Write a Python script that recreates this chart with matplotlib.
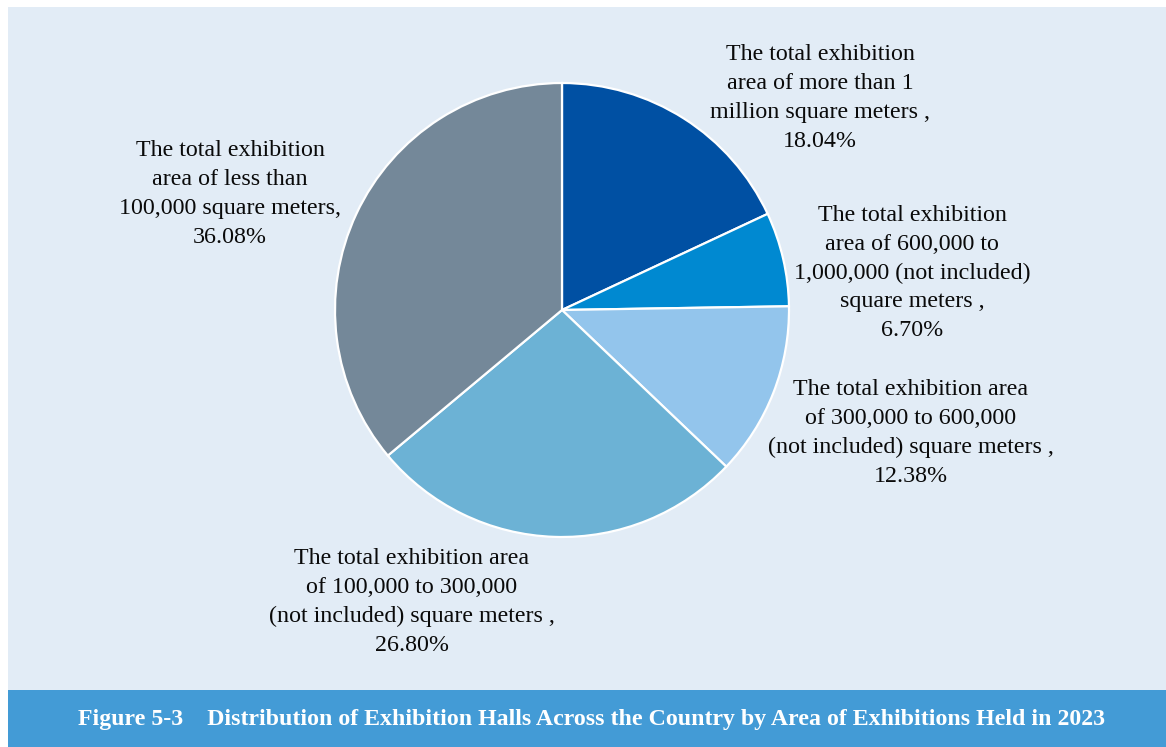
import matplotlib
matplotlib.use("Agg")
import matplotlib.pyplot as plt
from matplotlib.patches import Rectangle

# Share of exhibition halls by total area of exhibitions held (2023)
categories = [
    "The total exhibition\narea of more than 1\nmillion square meters ,",
    "The total exhibition\narea of 600,000 to\n1,000,000 (not included)\nsquare meters ,",
    "The total exhibition area\nof 300,000 to 600,000\n(not included) square meters ,",
    "The total exhibition area\nof 100,000 to 300,000\n(not included) square meters ,",
    "The total exhibition\narea of less than\n100,000 square meters,",
]
shares = [18.04, 6.70, 12.38, 26.80, 36.08]
colors = ["#0050A3", "#0089D1", "#93C5EC", "#6CB2D5", "#748899"]
title = "Figure 5-3    Distribution of Exhibition Halls Across the Country by Area of Exhibitions Held in 2023"

W, H = 1166, 747
fig = plt.figure(figsize=(W / 100, H / 100), dpi=100, facecolor="white")

def fx(px):
    return px / W

def fy(py):
    return 1 - py / H

# Panel background and caption band
fig.patches.append(Rectangle((fx(8), fy(690)), fx(W - 8), 690 / H - 7 / H,
                             transform=fig.transFigure, facecolor="#E2ECF6",
                             edgecolor="none", zorder=-2))
fig.patches.append(Rectangle((fx(8), 0), fx(W - 8), (H - 690) / H,
                             transform=fig.transFigure, facecolor="#439BD6",
                             edgecolor="none", zorder=-2))

# Pie
cx, cy, r = 562, 310, 227
ax = fig.add_axes([fx(cx - r), fy(cy + r), fx(2 * r), 2 * r / H], zorder=2)
ax.set_facecolor("none")
ax.pie(shares, colors=colors, startangle=90, counterclock=False, radius=1,
       wedgeprops=dict(edgecolor="white", linewidth=1.6))
ax.set_xlim(-1.0, 1.0)
ax.set_ylim(-1.0, 1.0)
ax.axis("off")

# Slice labels
label_pos = [(820, 98), (912, 273), (911, 433), (412, 602), (230, 194)]
for text, v, (px, py) in zip(categories, shares, label_pos):
    fig.text(fx(px), fy(py), f"{text}\n{v:.2f}%", ha="center", va="center",
             family="Liberation Serif", fontsize=17.3, color="#0A0A0A",
             linespacing=1.48, zorder=3)

fig.text(fx(592), fy(719), title, ha="center", va="center",
         family="Liberation Serif", fontweight="bold", fontsize=17.2,
         color="white", zorder=3)

fig.savefig("out.png", dpi=100, facecolor="white")
